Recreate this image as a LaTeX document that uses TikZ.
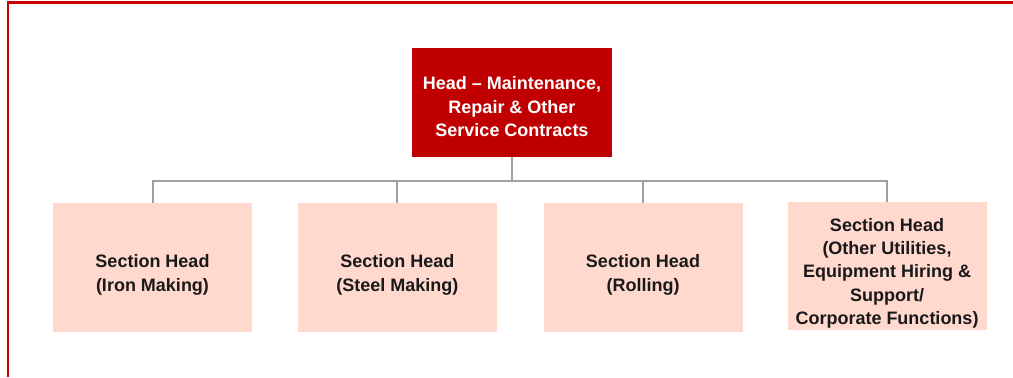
\documentclass[tikz,border=0pt]{standalone}
\usepackage{fontspec}
\setmainfont{Liberation Sans}
\usetikzlibrary{calc}

\definecolor{headred}{RGB}{192,0,0}
\definecolor{framered}{RGB}{204,0,0}
\definecolor{sectpink}{RGB}{255,216,206}
\definecolor{linegray}{RGB}{160,160,160}

\tikzset{
  headbox/.style={fill=headred,text=white,font=\fontsize{18bp}{23.5bp}\selectfont\bfseries,
    minimum width=200bp,minimum height=109bp,align=center,inner sep=0pt,
    text height=68bp,text depth=0bp},
  sectbox/.style={fill=sectpink,text=black!90,font=\fontsize{18bp}{24bp}\selectfont\bfseries,
    minimum width=199bp,minimum height=129bp,align=center,inner sep=0pt,
    text height=48bp,text depth=0bp},
  link/.style={draw=linegray,line width=2bp}
}

\begin{document}
\begin{tikzpicture}[x=1bp,y=-1bp]
        \useasboundingbox (0,0) rectangle (1013,377);
        % frame
        \draw[framered,line width=2.2bp] (8,377) -- (8,2.5) -- (1013,2.5);

        \node[headbox] (head) at (512,102.5) {Head -- Maintenance,\\Repair \& Other\\Service Contracts};

        \node[sectbox] (iron) at (152.5,267.5) {Section Head\\(Iron Making)};
        \node[sectbox] (steel) at (397.3,267.5) {Section Head\\(Steel Making)};
        \node[sectbox] (roll) at (643,267.5) {Section Head\\(Rolling)};
        \node[sectbox,font=\fontsize{18bp}{23.3bp}\selectfont\bfseries,
          minimum height=128bp,text height=117bp] (util) at (887,266) {Section Head\\(Other Utilities,\\Equipment Hiring \&\\Support/\\Corporate Functions)};

        \coordinate (bus) at (0,181);
        \draw[link] (head.south) -- (head.south |- bus);
        \draw[link] (iron.north) -- (iron.north |- bus) -- (util.north |- bus) -- (util.north);
        \foreach \n in {steel,roll}
          \draw[link] (\n.north) -- (\n.north |- bus);
    \end{tikzpicture}
\end{document}
